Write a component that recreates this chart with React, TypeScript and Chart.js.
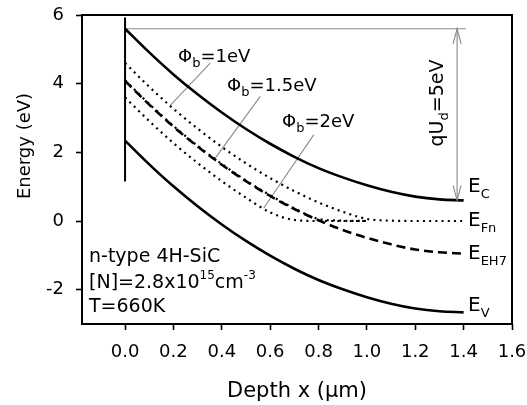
import React, { useEffect, useRef } from "react";
import { Chart, registerables } from "chart.js";

Chart.register(...registerables);

// ---- data ----
const depth = [0, 0.1, 0.2, 0.3, 0.4, 0.5, 0.6, 0.7, 0.8, 0.9, 1.0, 1.1, 1.2, 1.3, 1.4];
const energyEC = [5.6, 4.91, 4.27, 3.69, 3.16, 2.68, 2.25, 1.87, 1.54, 1.27, 1.04, 0.85, 0.71, 0.63, 0.6];
const energyEV = [2.34, 1.65, 1.01, 0.43, -0.1, -0.58, -1.01, -1.39, -1.72, -1.99, -2.22, -2.41, -2.55, -2.63, -2.66];
const energyEH7 = [4.08, 3.39, 2.75, 2.17, 1.64, 1.16, 0.73, 0.35, 0.02, -0.26, -0.49, -0.68, -0.83, -0.91, -0.95];
const fermiPhi1 = [4.6, 3.91, 3.27, 2.69, 2.16, 1.68, 1.25, 0.87, 0.54, 0.27, 0.06, 0.01, 0, 0, 0];
const fermiPhi15 = [4.1, 3.41, 2.77, 2.19, 1.66, 1.18, 0.75, 0.37, 0.06, 0.01, 0];
const fermiPhi2 = [3.6, 2.91, 2.27, 1.69, 1.16, 0.68, 0.25, 0.03, 0, 0, 0];

const surfaceX = [0, 0];
const surfaceE = [5.93, 1.15];
const refLineX = [0, 1.41];
const refLineE = [5.6, 5.6];
const arrowX = [1.373, 1.373];
const arrowE = [5.6, 0.6];
const leader1X = [0.352, 0.186];
const leader1E = [4.6, 3.36];
const leader15X = [0.559, 0.373];
const leader15E = [3.63, 1.83];
const leader2X = [0.78, 0.573];
const leader2E = [2.51, 0.37];

const xTicks = [0, 0.2, 0.4, 0.6, 0.8, 1.0, 1.2, 1.4, 1.6];
const yTicks = [-2, 0, 2, 4, 6];

const FONT = '"DejaVu Sans", "Liberation Sans", Arial, sans-serif';
const INK = "#000";

type Seg = { t: string; k?: "sub" | "sup" };

function richWidth(ctx: CanvasRenderingContext2D, segs: Seg[], size: number, small: number) {
  let w = 0;
  for (const s of segs) {
    ctx.font = `${s.k ? small : size}px ${FONT}`;
    w += ctx.measureText(s.t).width;
  }
  return w;
}

function drawRich(
  ctx: CanvasRenderingContext2D,
  segs: Seg[],
  x: number,
  y: number,
  size: number,
  small: number,
  subDy: number,
  supDy: number
) {
  let cx = x;
  ctx.textAlign = "left";
  ctx.textBaseline = "alphabetic";
  for (const s of segs) {
    ctx.font = `${s.k ? small : size}px ${FONT}`;
    const dy = s.k === "sub" ? subDy : s.k === "sup" ? -supDy : 0;
    ctx.fillText(s.t, cx, y + dy);
    cx += ctx.measureText(s.t).width;
  }
}

const pts = (xs: number[], ys: number[]) => ys.map((y, i) => ({ x: xs[i], y }));

const annotationPlugin = {
  id: "annotations",
  afterDatasetsDraw(chart: any) {
    const ctx: CanvasRenderingContext2D = chart.ctx;
    const { left, right, top, bottom } = chart.chartArea;
    const xs = chart.scales.x;
    const ys = chart.scales.y;
    ctx.save();
    // frame
    ctx.strokeStyle = INK;
    ctx.lineWidth = 2;
    ctx.strokeRect(left, top, right - left, bottom - top);

    // arrow heads on qUd arrow
    const ax = xs.getPixelForValue(arrowX[0]);
    const aTop = ys.getPixelForValue(arrowE[0]);
    const aBot = ys.getPixelForValue(arrowE[1]);
    ctx.strokeStyle = "#8a8a8a";
    ctx.lineWidth = 1.1;
    ctx.beginPath();
    ctx.moveTo(ax - 4, aTop + 15);
    ctx.lineTo(ax, aTop);
    ctx.lineTo(ax + 4, aTop + 15);
    ctx.moveTo(ax - 4, aBot - 15);
    ctx.lineTo(ax, aBot);
    ctx.lineTo(ax + 4, aBot - 15);
    ctx.stroke();

    ctx.fillStyle = INK;
    // Phi_b labels
    const phi = (v: string): Seg[] => [{ t: "Φ" }, { t: "b", k: "sub" }, { t: "=" + v + "eV" }];
    drawRich(ctx, phi("1"), 178, 62, 18, 13, 5, 0);
    drawRich(ctx, phi("1.5"), 227, 91, 18, 13, 5, 0);
    drawRich(ctx, phi("2"), 282, 127, 18, 13, 5, 0);

    // band labels
    const bandX = 468;
    drawRich(ctx, [{ t: "E" }, { t: "C", k: "sub" }], bandX, 192, 20, 13, 6, 0);
    drawRich(ctx, [{ t: "E" }, { t: "Fn", k: "sub" }], bandX, 226, 20, 13, 6, 0);
    drawRich(ctx, [{ t: "E" }, { t: "EH7", k: "sub" }], bandX, 259, 20, 13, 6, 0);
    drawRich(ctx, [{ t: "E" }, { t: "V", k: "sub" }], bandX, 311, 20, 13, 6, 0);

    // sample description
    drawRich(ctx, [{ t: "n-type 4H-SiC" }], 89, 262, 19, 12, 0, 0);
    drawRich(
      ctx,
      [{ t: "[N]=2.8x10" }, { t: "15", k: "sup" }, { t: "cm" }, { t: "-3", k: "sup" }],
      89,
      288,
      19,
      12,
      0,
      9
    );
    drawRich(ctx, [{ t: "T=660K" }], 89, 312, 19, 12, 0, 0);

    // qUd rotated
    const qSegs: Seg[] = [{ t: "qU" }, { t: "d", k: "sub" }, { t: "=5eV" }];
    ctx.save();
    ctx.translate(443, 103);
    ctx.rotate(-Math.PI / 2);
    const qw = richWidth(ctx, qSegs, 19, 13);
    drawRich(ctx, qSegs, -qw / 2, 0, 19, 13, 5, 0);
    ctx.restore();

    // axis titles
    ctx.font = `21px ${FONT}`;
    ctx.textAlign = "center";
    ctx.textBaseline = "alphabetic";
    ctx.fillText("Depth x (µm)", (left + right) / 2, 397);

    ctx.save();
    ctx.translate(29.5, 146);
    ctx.rotate(-Math.PI / 2);
    ctx.font = `18px ${FONT}`;
    ctx.textAlign = "center";
    ctx.fillText("Energy (eV)", 0, 0);
    ctx.restore();

    ctx.restore();
  },
};

export default function App() {
  const ref = useRef<HTMLCanvasElement>(null);

  useEffect(() => {
    const solid = { borderColor: INK, borderWidth: 2.6, pointRadius: 0, fill: false, cubicInterpolationMode: "monotone" as const };
    const dotted = { borderColor: INK, borderWidth: 2.2, borderDash: [2, 4.2], pointRadius: 0, fill: false, cubicInterpolationMode: "monotone" as const };
    const thinGray = { borderColor: "#8a8a8a", borderWidth: 1.1, pointRadius: 0, fill: false, tension: 0 };

    const chart = new Chart(ref.current as HTMLCanvasElement, {
      type: "line",
      data: {
        datasets: [
          { label: "EC", data: pts(depth, energyEC), ...solid },
          { label: "EV", data: pts(depth, energyEV), ...solid },
          { label: "EH7", data: pts(depth, energyEH7), ...solid, borderDash: [9, 5] },
          { label: "Phi1", data: pts(depth, fermiPhi1), ...dotted },
          { label: "Phi1.5", data: pts(depth, fermiPhi15), ...dotted },
          { label: "Phi2", data: pts(depth, fermiPhi2), ...dotted },
          { label: "surface", data: pts(surfaceX, surfaceE), borderColor: INK, borderWidth: 2, pointRadius: 0, tension: 0 },
          { label: "ref", data: pts(refLineX, refLineE), ...thinGray },
          { label: "arrow", data: pts(arrowX, arrowE), ...thinGray },
          { label: "l1", data: pts(leader1X, leader1E), ...thinGray },
          { label: "l15", data: pts(leader15X, leader15E), ...thinGray },
          { label: "l2", data: pts(leader2X, leader2E), ...thinGray },
        ] as any,
      },
      options: {
        animation: false,
        responsive: false,
        maintainAspectRatio: false,
        layout: { padding: { left: 0, top: 15, right: 15, bottom: 0 } },
        plugins: {
          legend: { display: false },
          tooltip: { enabled: false },
          title: { display: false },
        },
        elements: { point: { radius: 0 } },
        scales: {
          x: {
            type: "linear",
            min: -0.178,
            max: 1.6,
            afterBuildTicks: (s: any) => {
              s.ticks = xTicks.map((v) => ({ value: v }));
            },
            afterFit: (s: any) => {
              s.height = 81;
              s.paddingLeft = 0;
              s.paddingRight = 0;
            },
            ticks: {
              callback: (v: any) => Number(v).toFixed(1),
              font: { family: FONT, size: 18 },
              color: INK,
              padding: 12,
              maxRotation: 0,
              autoSkip: false,
            },
            grid: { drawOnChartArea: false, drawTicks: true, tickLength: 6, tickWidth: 1.6, tickColor: INK },
            border: { display: false },
          },
          y: {
            type: "linear",
            min: -3,
            max: 6,
            afterBuildTicks: (s: any) => {
              s.ticks = yTicks.map((v) => ({ value: v }));
            },
            afterFit: (s: any) => {
              s.width = 82;
              s.paddingTop = 0;
              s.paddingBottom = 0;
            },
            ticks: {
              callback: (v: any) => String(v),
              font: { family: FONT, size: 18 },
              color: INK,
              padding: 12,
              autoSkip: false,
            },
            grid: { drawOnChartArea: false, drawTicks: true, tickLength: 6, tickWidth: 1.6, tickColor: INK },
            border: { display: false },
          },
        },
      },
      plugins: [annotationPlugin],
    });
    return () => chart.destroy();
  }, []);

  return (
    <div style={{ position: "absolute", left: 0, top: 0, width: 527, height: 405 }}>
      <canvas ref={ref} width={527} height={405} style={{ display: "block", width: 527, height: 405 }} />
    </div>
  );
}
